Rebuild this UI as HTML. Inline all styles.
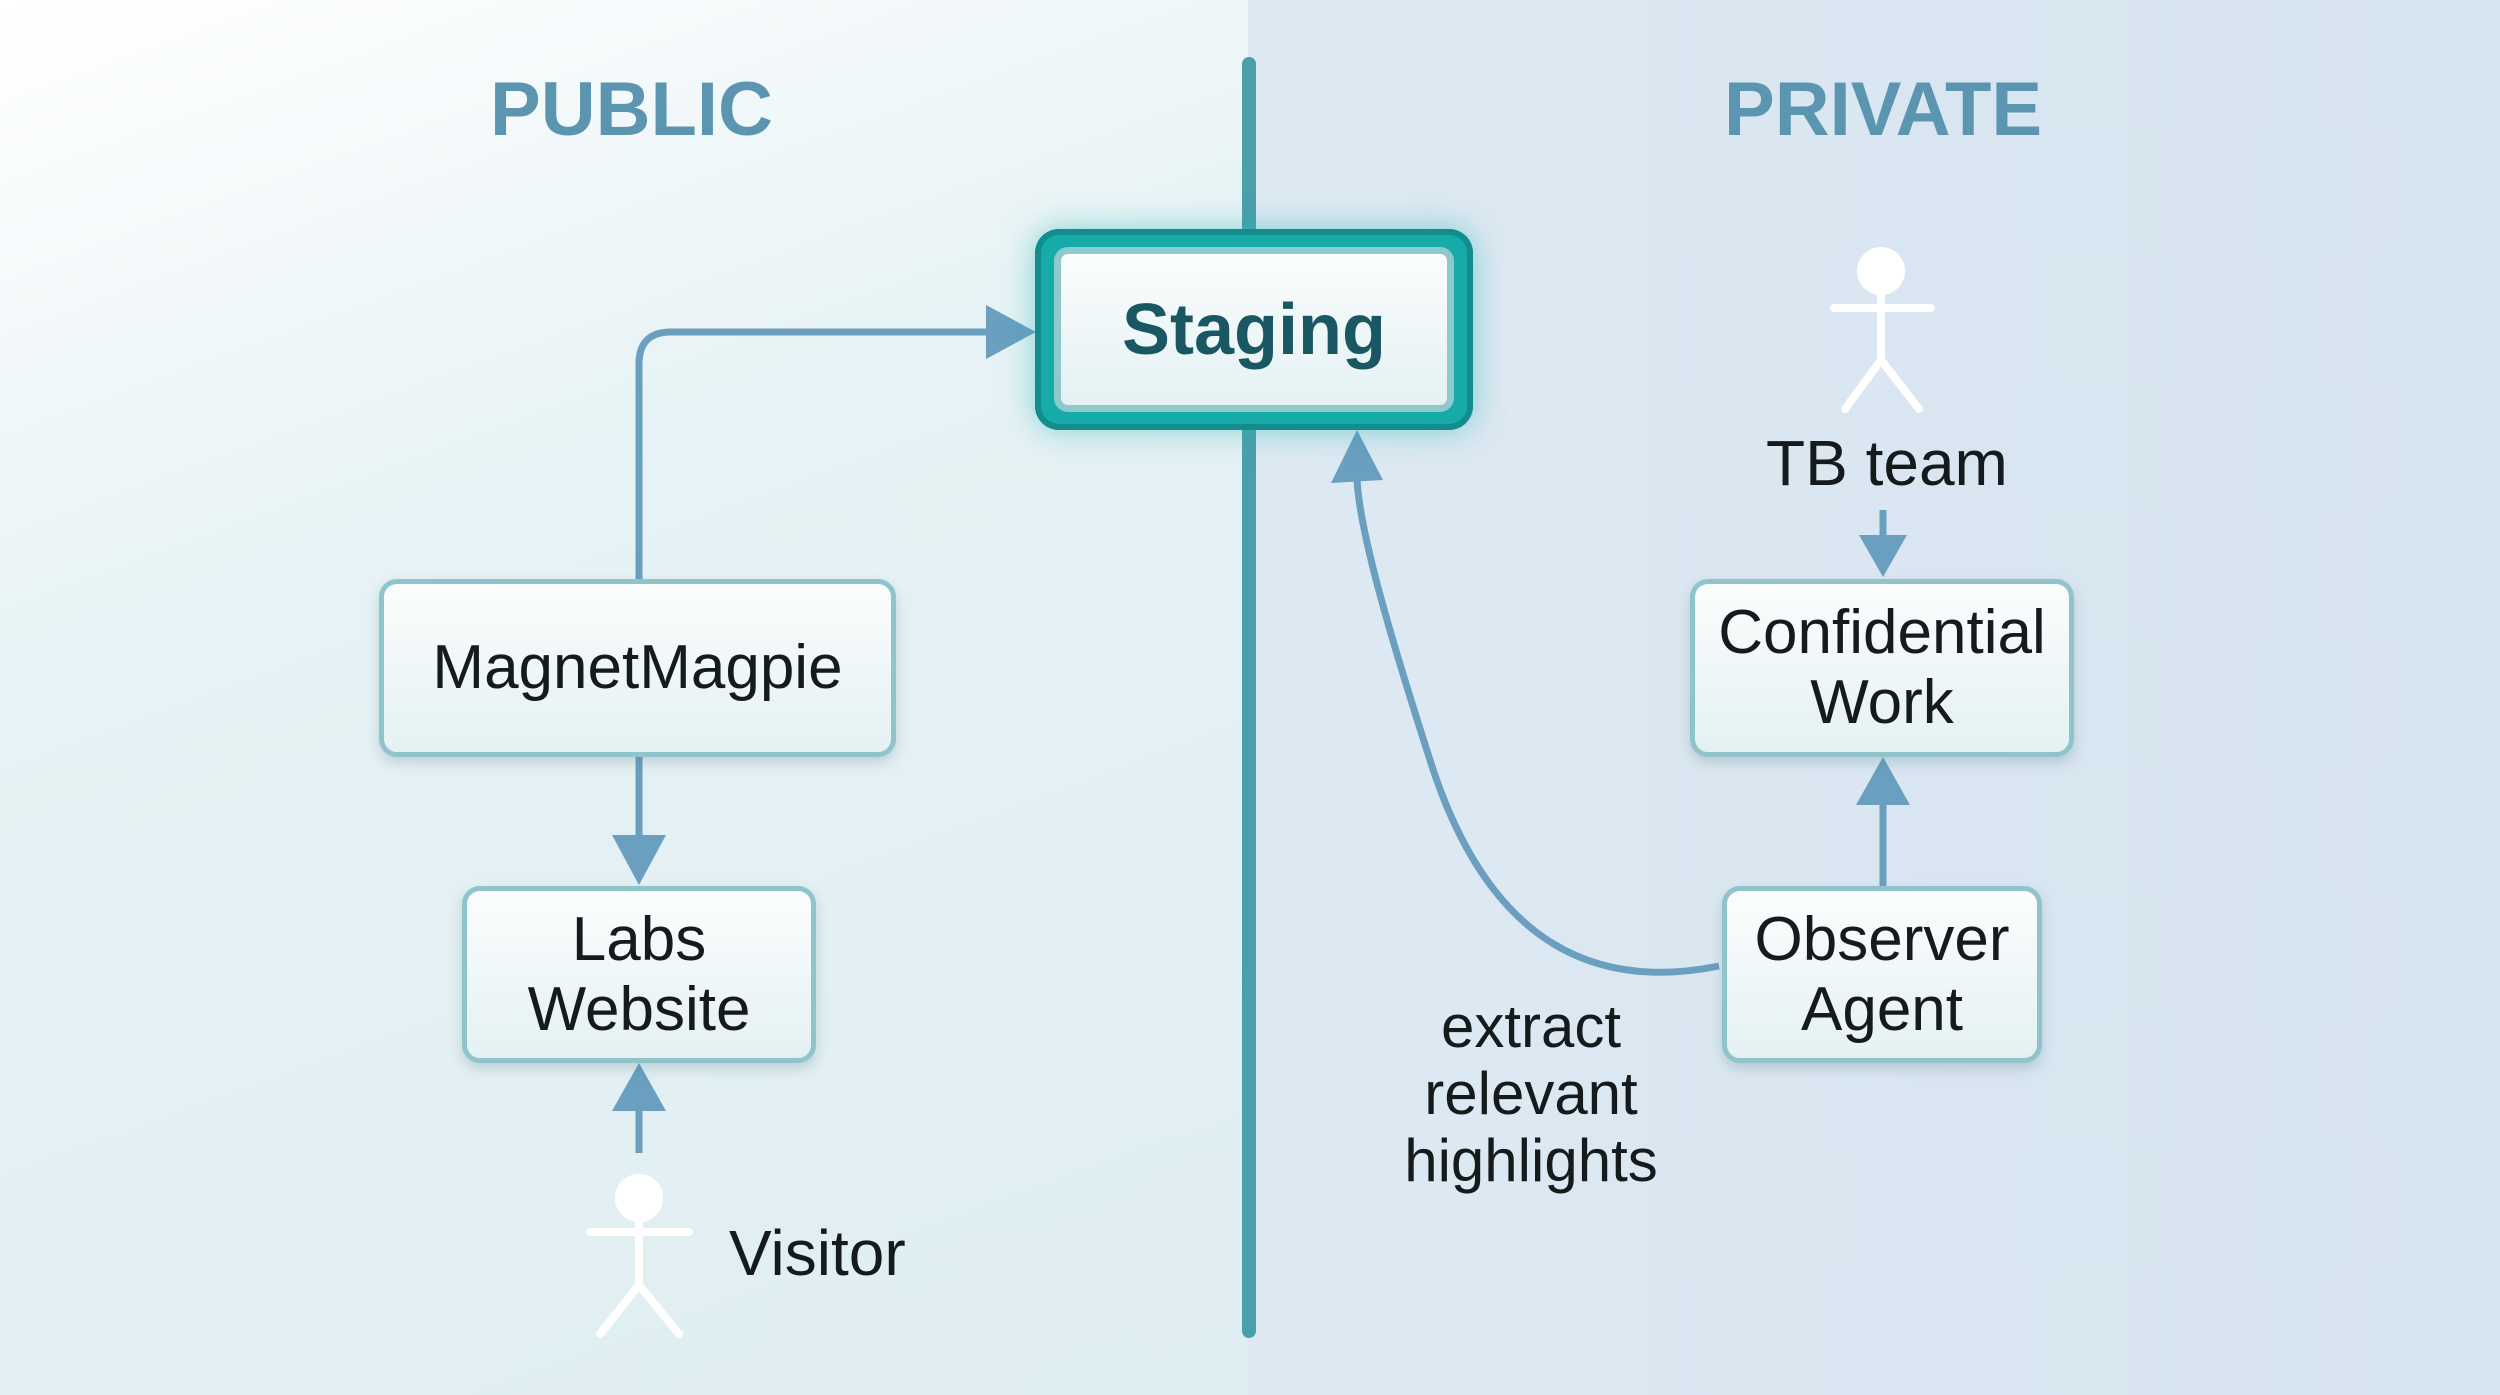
<!DOCTYPE html>
<html><head><meta charset="utf-8"><style>
html,body{margin:0;padding:0}
body{width:2500px;height:1395px;overflow:hidden;position:relative;font-family:"Liberation Sans","DejaVu Sans",sans-serif;
background:linear-gradient(90deg,transparent 0,transparent 1248px,#dde9f2 1248px,#d6e4f0 2500px),
linear-gradient(160deg,#ffffff 0%,#e6f2f5 30%,#dcecf0 100%);}
.box{position:absolute;box-sizing:border-box;border:5px solid #8fc4cb;border-radius:18px;
background:linear-gradient(180deg,#fbfdfd 0%,#e4f1f3 100%);box-shadow:0 6px 12px rgba(80,120,130,.25);
display:flex;align-items:center;justify-content:center;text-align:center;color:#151a1c;font-size:62px;line-height:70px}
.lbl{position:absolute;color:#151a1c;font-size:64px;white-space:nowrap}
.hdr{position:absolute;font-weight:bold;font-size:76px;color:#5b95b0}
</style></head><body>
<div class="hdr" style="left:490px;top:66px">PUBLIC</div>
<div class="hdr" style="left:1724px;top:66px">PRIVATE</div>
<svg width="2500" height="1395" style="position:absolute;left:0;top:0">
<line x1="1249" y1="64" x2="1249" y2="1331" stroke="#4aa0aa" stroke-width="14" stroke-linecap="round"/>
<g fill="none" stroke="#6a9fbf" stroke-width="7">
<path d="M639,579 V364 Q639,332 671,332 H990"/>
<line x1="639" y1="757" x2="639" y2="840"/>
<line x1="639" y1="1153" x2="639" y2="1105"/>
<line x1="1883" y1="510" x2="1883" y2="535"/>
<line x1="1883" y1="886" x2="1883" y2="800"/>
<path d="M1719,966 C1600,990 1490,950 1430,760 C1385,620 1360,530 1357,480"/>
</g>
<g fill="#6a9fbf">
<polygon points="1036,332 986,305 986,359"/>
<polygon points="639,885 612,835 666,835"/>
<polygon points="639,1063 612,1111 666,1111"/>
<polygon points="1883,577 1859,535 1907,535"/>
<polygon points="1883,757 1856,805 1910,805"/>
<polygon points="1357,430 1331,483 1383,480"/>
</g>
<g stroke="#ffffff" stroke-width="8" fill="none" stroke-linecap="round">
<circle cx="639" cy="1198" r="20" fill="#fff"/>
<line x1="590" y1="1232" x2="689" y2="1232"/><line x1="639" y1="1218" x2="639" y2="1285"/>
<polyline points="600,1334 639,1285 679,1334"/>
<circle cx="1881" cy="271" r="20" fill="#fff"/>
<line x1="1834" y1="308" x2="1931" y2="308"/><line x1="1881" y1="291" x2="1881" y2="360"/>
<polyline points="1845,409 1881,360 1919,409"/>
</g>
</svg>
<div style="position:absolute;left:1035px;top:229px;width:438px;height:201px;box-sizing:border-box;border-radius:24px;background:#16aaa8;box-shadow:0 0 30px rgba(30,180,180,.5),inset 0 0 0 6px #138c8e"></div>
<div class="box" style="left:1054px;top:247px;width:400px;height:165px;border:7px solid #8ec9cc;border-radius:14px;font-weight:bold;font-size:72px;color:#195862;box-shadow:none">Staging</div>
<div class="box" style="left:379px;top:579px;width:517px;height:178px">MagnetMagpie</div>
<div class="box" style="left:462px;top:886px;width:354px;height:177px">Labs<br>Website</div>
<div class="box" style="left:1690px;top:579px;width:384px;height:178px">Confidential<br>Work</div>
<div class="box" style="left:1722px;top:886px;width:320px;height:177px">Observer<br>Agent</div>
<div class="lbl" style="left:729px;top:1216px">Visitor</div>
<div class="lbl" style="left:1766px;top:426px">TB team</div>
<div class="lbl" style="left:1331px;top:993px;width:400px;text-align:center;font-size:60px;line-height:67px;white-space:normal">extract<br>relevant<br>highlights</div>
</body></html>
